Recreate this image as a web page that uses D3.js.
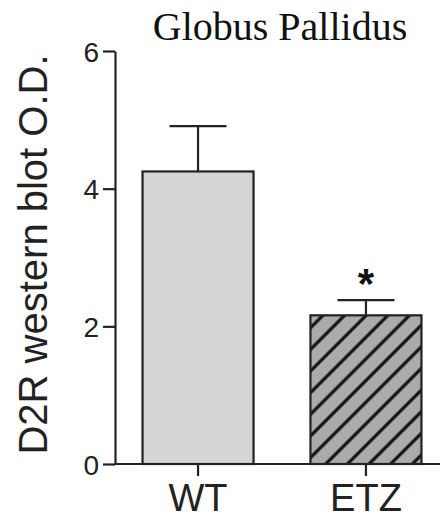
<!DOCTYPE html>
<html>
<head>
<meta charset="utf-8">
<script src="https://cdn.jsdelivr.net/npm/d3@7"></script>
<style>
  body { margin: 0; background: #fff; }
  svg { display: block; }
</style>
</head>
<body>
<div id="chart"></div>
<script>
// data
var groups = ["WT", "ETZ"];
var means = [4.25, 2.16];
var sems = [0.66, 0.22];
var yTicks = [0, 2, 4, 6];
var sigMarks = ["", "*"];

var width = 440, height = 520;
var margin = {top: 51, left: 115, bottom: 56};

var svg = d3.select("#chart").append("svg")
    .attr("width", width)
    .attr("height", height);

var y = d3.scaleLinear().domain([0, 6]).range([height - margin.bottom, margin.top]);
var x = d3.scaleBand().domain(groups)
    .range([margin.left, 449])
    .paddingInner(0.339)
    .paddingOuter(0.164);

// hatch pattern for the ETZ bar
var hs = 15.3;
var defs = svg.append("defs");
var pat = defs.append("pattern")
    .attr("id", "hatch")
    .attr("patternUnits", "userSpaceOnUse")
    .attr("width", hs)
    .attr("height", hs)
    .attr("patternTransform", "rotate(45)");
pat.append("rect").attr("width", hs).attr("height", hs).attr("fill", "#ababab");
pat.append("line")
    .attr("x1", hs / 2).attr("y1", 0).attr("x2", hs / 2).attr("y2", hs)
    .attr("stroke", "#111").attr("stroke-width", 3.2);

var fills = ["#d6d6d6", "url(#hatch)"];

// error bars (drawn first so bars cover the lower half)
var eb = svg.selectAll(".err").data(groups).enter().append("g").attr("class", "err")
    .attr("stroke", "#222").attr("stroke-width", 2.2);
eb.append("line")
    .attr("x1", function(d) { return x(d) + x.bandwidth() / 2; })
    .attr("x2", function(d) { return x(d) + x.bandwidth() / 2; })
    .attr("y1", function(d, i) { return y(means[i]); })
    .attr("y2", function(d, i) { return y(means[i] + sems[i]); });
eb.append("line")
    .attr("x1", function(d) { return x(d) + x.bandwidth() / 2 - 28.5; })
    .attr("x2", function(d) { return x(d) + x.bandwidth() / 2 + 28.5; })
    .attr("y1", function(d, i) { return y(means[i] + sems[i]); })
    .attr("y2", function(d, i) { return y(means[i] + sems[i]); });

// bars
svg.selectAll(".bar").data(groups).enter().append("rect")
    .attr("class", "bar")
    .attr("x", function(d) { return x(d); })
    .attr("width", x.bandwidth())
    .attr("y", function(d, i) { return y(means[i]); })
    .attr("height", function(d, i) { return y(0) - y(means[i]); })
    .attr("fill", function(d, i) { return fills[i]; })
    .attr("stroke", "#222")
    .attr("stroke-width", 2.2);

// significance marks
svg.selectAll(".sig").data(groups).enter().append("text")
    .attr("class", "sig")
    .attr("x", function(d) { return x(d) + x.bandwidth() / 2; })
    .attr("y", function(d, i) { return y(means[i] + sems[i]) - 2; })
    .attr("text-anchor", "middle")
    .style("font-family", "'Liberation Sans', Arial, sans-serif")
    .style("font-weight", "bold")
    .style("font-size", "42px")
    .attr("fill", "#111")
    .text(function(d, i) { return sigMarks[i]; });

// y axis
var yAxis = svg.append("g")
    .attr("transform", "translate(" + margin.left + ",0)")
    .call(d3.axisLeft(y).tickValues(yTicks).tickFormat(d3.format("d")).tickSize(12).tickSizeOuter(0).tickPadding(4));

// x axis
var xAxis = svg.append("g")
    .attr("transform", "translate(0," + y(0) + ")")
    .call(d3.axisBottom(x).tickSize(12).tickSizeOuter(0).tickPadding(8));
xAxis.select(".domain").attr("d", "M" + margin.left + ",0H" + width);

svg.selectAll(".domain, .tick line").attr("stroke", "#222").attr("stroke-width", 2.2);
yAxis.selectAll(".tick text")
    .style("font-family", "'Liberation Sans', Arial, sans-serif")
    .style("font-size", "28px")
    .attr("fill", "#222")
    .attr("dy", "0.36em");
xAxis.selectAll(".tick text")
    .style("font-family", "'Liberation Sans', Arial, sans-serif")
    .style("font-size", "38px")
    .attr("fill", "#222")
    .attr("dy", "0.71em");

// y label
svg.append("text")
    .attr("transform", "translate(47," + ((y(0) + y(6)) / 2 - 3) + ") rotate(-90)")
    .attr("text-anchor", "middle")
    .style("font-family", "'Liberation Sans', Arial, sans-serif")
    .style("font-size", "40px")
    .attr("fill", "#222")
    .text("D2R western blot O.D.");

// title
svg.append("text")
    .attr("x", 280)
    .attr("y", 40)
    .attr("text-anchor", "middle")
    .style("font-family", "'Liberation Serif', 'Times New Roman', serif")
    .style("font-size", "40px")
    .attr("fill", "#111")
    .text("Globus Pallidus");
</script>
</body>
</html>
